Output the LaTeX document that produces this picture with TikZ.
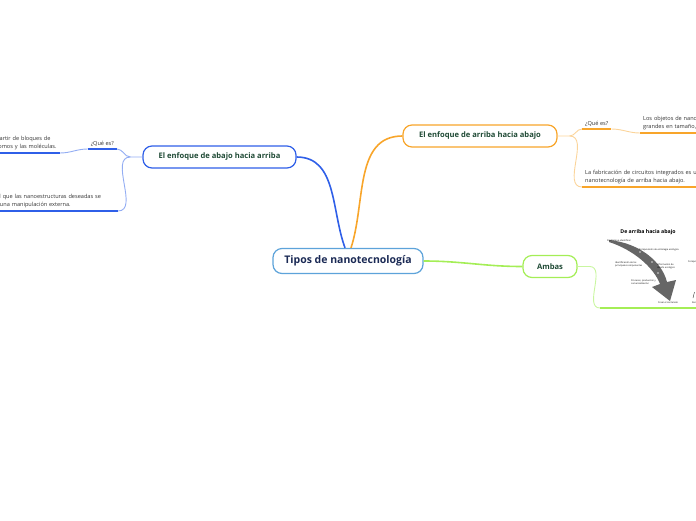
\documentclass[tikz,border=0pt]{standalone}
\usepackage{fontspec}
\setmainfont{Open Sans}
\usetikzlibrary{positioning}

\definecolor{rootline}{HTML}{5DA3DA}
\definecolor{roottext}{HTML}{1B2A55}
\definecolor{bluebr}{HTML}{2F5FE8}
\definecolor{bluethin}{HTML}{93ADF3}
\definecolor{orangebr}{HTML}{F8A52A}
\definecolor{orangethin}{HTML}{FBD49A}
\definecolor{greenbr}{HTML}{A4EE56}
\definecolor{greenthin}{HTML}{C9F6A0}
\definecolor{topictext}{HTML}{1F4A35}
\definecolor{leaftext}{HTML}{333333}
\definecolor{arrowgrey}{HTML}{666666}

\begin{document}
\begin{tikzpicture}[x=1pt, y=-1pt,
    rootbox/.style={draw=rootline, line width=1.2pt, fill=white, rounded corners=9pt,
        minimum width=150pt, minimum height=25pt, inner sep=0pt,
        font=\fontsize{10.5}{12}\selectfont\bfseries, text=roottext},
    topic/.style={draw=#1, line width=1.2pt, fill=white, rounded corners=9pt,
        minimum height=22pt, inner sep=0pt,
        font=\fontsize{7.6}{9}\selectfont\bfseries, text=topictext},
    leaf/.style={font=\fontsize{5.6}{8}\selectfont, text=leaftext, align=left,
        inner xsep=3pt, inner ysep=2.5pt},
    tiny/.style={font=\fontsize{2.3}{2.8}\selectfont, align=left, inner sep=0pt},
    stem/.style={line width=1.6pt},
    twig/.style={line width=0.9pt},
    uline/.style={line width=1.8pt}]

    \useasboundingbox (0,0) rectangle (696,520);
    \clip (0,0) rectangle (696,520);

    % main topics
    \node[rootbox] (tipos) at (348,261) {Tipos de nanotecnología};
    \node[topic=bluebr, minimum width=153pt] (abajo) at (219.5,157) {El enfoque de abajo hacia arriba};
    \node[topic=orangebr, minimum width=154pt] (arriba) at (480,136) {El enfoque de arriba hacia abajo};
    \node[topic=greenbr, minimum width=54pt] (ambas) at (550,266.5) {Ambas};

    \draw[stem, bluebr] (abajo.east) to[out=0, in=110] ([xshift=-3pt]tipos.north);
    \draw[stem, orangebr] ([xshift=3pt]tipos.north) to[out=72, in=180] (arriba.west);
    \draw[stem, greenbr] (tipos.east) to[out=0, in=180] (ambas.west);

    % abajo hacia arriba
    \coordinate (abajoJ) at ([xshift=-12pt]abajo.west);
    \node[leaf, anchor=south east] (queAbajo) at (117,149) {¿Qué es?};
    \node[leaf, anchor=south east, text width=126pt] (defAbajo) at (60,153)
        {Se construyen objetos a partir de bloques de\\construcción, como los átomos y las moléculas.};
    \node[leaf, anchor=south east, text width=166pt] (autoAbajo) at (118,211)
        {Es un proceso en el que las nanoestructuras deseadas se\\unen solas sin ninguna manipulación externa.};

    \draw[twig, bluethin] (abajo.west) -- (abajoJ) to[out=180, in=0] (queAbajo.south east);
    \draw[twig, bluethin] (abajoJ) to[out=180, in=0] (autoAbajo.south east);
    \draw[twig, bluethin] (queAbajo.south west) to[out=180, in=0] (defAbajo.south east);
    \draw[uline, bluebr] (queAbajo.south west) -- (queAbajo.south east);
    \draw[uline, bluebr] (defAbajo.south west) -- (defAbajo.south east);
    \draw[uline, bluebr] (autoAbajo.south west) -- (autoAbajo.south east);

    % arriba hacia abajo
    \coordinate (arribaJ) at ([xshift=12pt]arriba.east);
    \node[leaf, anchor=south west] (queArriba) at (582,129) {¿Qué es?};
    \node[leaf, anchor=south west, text width=170pt] (defArriba) at (640,133)
        {Los objetos de nanoescala se fabrican a partir de\\grandes en tamaño, que se reducen poco a poco.};
    \node[leaf, anchor=south west, text width=170pt] (chipArriba) at (582,187)
        {La fabricación de circuitos integrados es un ejemplo de\\nanotecnología de arriba hacia abajo.};

    \draw[twig, orangethin] (arriba.east) -- (arribaJ) to[out=0, in=180] (queArriba.south west);
    \draw[twig, orangethin] (arribaJ) to[out=0, in=180] (chipArriba.south west);
    \draw[twig, orangethin] (queArriba.south east) to[out=0, in=180] (defArriba.south west);
    \draw[uline, orangebr] (queArriba.south west) -- (queArriba.south east);
    \draw[uline, orangebr] (defArriba.south west) -- (defArriba.south east);
    \draw[uline, orangebr] (chipArriba.south west) -- (chipArriba.south east);

    % ambas: picture
    \coordinate (ambasJ) at ([xshift=12pt]ambas.east);
    \node[anchor=south west, minimum width=120pt, minimum height=82pt, inner sep=0pt] (ambasImg) at (600,308) {};
    \draw[twig, greenthin] (ambas.east) -- (ambasJ) to[out=0, in=180] (ambasImg.south west);
    \draw[uline, greenbr] (ambasImg.south west) -- (ambasImg.south east);

    \node[font=\fontsize{5.2}{6}\selectfont\bfseries, inner sep=0pt] (imgTitle) at (648,232) {De arriba hacia abajo};
    \fill[arrowgrey] (609,240) .. controls (640,243) and (662,262) .. (667,282)
        -- (676,280) -- (670,301) -- (652,287) -- (660,284)
        .. controls (654,268) and (634,250) .. (609,242) -- cycle;
    \foreach \p in {(640,252),(652,262),(658,273)}
        \fill[white!85!black] \p circle (0.9pt);
    \node[tiny, anchor=west] (pA) at (607,241) {Problema a identificar};
    \node[tiny, anchor=west] (pB) at (639,250) {Comprensión de estrategia ecológica};
    \node[tiny, anchor=west] (pC) at (615,264.5) {Identificación de los\\principales componentes};
    \node[tiny, anchor=west] (pD) at (657,266.5) {Información de\\diseño ecológico};
    \node[tiny, anchor=west] (pE) at (631,282) {Procesos, producción y\\comercialización};
    \node[tiny, anchor=west] (pF) at (658,302.5) {Crear el contenido};
    \node[tiny, anchor=west] (pG) at (688,261.5) {Comprobación};
    \node[tiny, anchor=west] (pH) at (692,302.5) {Reciclaje};
    \draw[line width=0.3pt] (693,298) -- (694.5,292);
\end{tikzpicture}
\end{document}
